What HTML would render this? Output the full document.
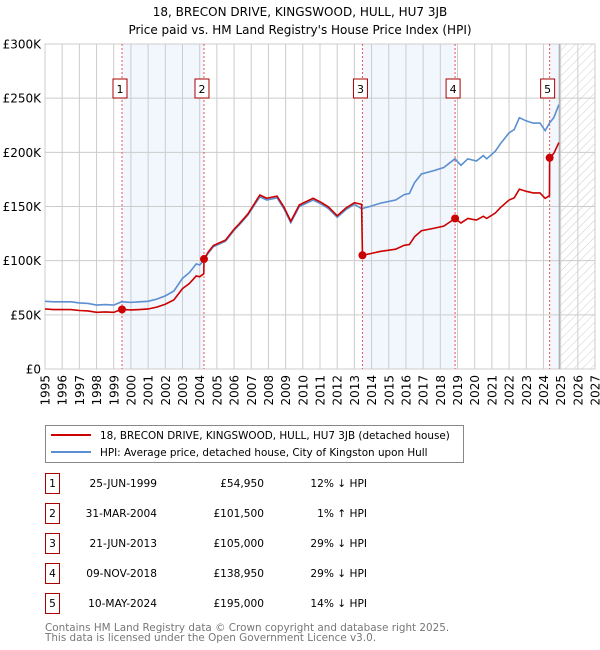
<!DOCTYPE html>
<html><head><meta charset="utf-8"><style>
body{margin:0;background:#fff;font-family:"Liberation Sans","DejaVu Sans",sans-serif;}
svg{display:block}
</style></head><body>
<svg id="c" width="600" height="650" xmlns="http://www.w3.org/2000/svg" font-family="DejaVu Sans, Liberation Sans, sans-serif">
<defs><pattern id="hatch" width="6" height="6" patternUnits="userSpaceOnUse" patternTransform="rotate(45)"><line x1="0" y1="0" x2="0" y2="6" stroke="#ccc" stroke-width="1"/></pattern></defs>
<text x="300" y="16" text-anchor="middle" font-size="12" fill="#000">18, BRECON DRIVE, KINGSWOOD, HULL, HU7 3JB</text>
<text x="300" y="34" text-anchor="middle" font-size="12" fill="#000">Price paid vs. HM Land Registry's House Price Index (HPI)</text>
<g id="plot"></g>
<g>
<rect x="45.5" y="425.5" width="418" height="37" fill="#fff" stroke="#888"/>
<line x1="51" y1="435" x2="91" y2="435" stroke="#cc0000" stroke-width="2"/>
<text x="100" y="439" font-size="10.4">18, BRECON DRIVE, KINGSWOOD, HULL, HU7 3JB (detached house)</text>
<line x1="51" y1="452" x2="91" y2="452" stroke="#5b8fd0" stroke-width="2"/>
<text x="100" y="456" font-size="10.4">HPI: Average price, detached house, City of Kingston upon Hull</text>
</g>
<g id="table" font-size="10.6"></g>
<text x="45" y="631" font-size="10.4" fill="#777">Contains HM Land Registry data © Crown copyright and database right 2025.</text>
<text x="45" y="641" font-size="10.4" fill="#777">This data is licensed under the Open Government Licence v3.0.</text>
</svg>
<script>
const yTicks=[0,50,100,150,200,250,300];
const yTickLabels=["£0","£50K","£100K","£150K","£200K","£250K","£300K"];
const xYears=[1995,1996,1997,1998,1999,2000,2001,2002,2003,2004,2005,2006,2007,2008,2009,2010,2011,2012,2013,2014,2015,2016,2017,2018,2019,2020,2021,2022,2023,2024,2025,2026,2027];
const hpiYears=[1995,1995.5,1996,1996.5,1997,1997.5,1998,1998.5,1999,1999.45,2000,2000.5,2001,2001.5,2002,2002.5,2003,2003.4,2003.8,2004,2004.24,2004.5,2004.8,2005.5,2006,2006.3,2006.8,2007.5,2007.9,2008.5,2008.9,2009.3,2009.8,2010.6,2011.1,2011.5,2012,2012.5,2013,2013.42,2013.9,2014.5,2015.4,2015.9,2016.2,2016.5,2016.9,2017.6,2018.2,2018.85,2019.2,2019.6,2020.1,2020.5,2020.7,2021.2,2021.5,2022,2022.3,2022.6,2023,2023.4,2023.8,2024.1,2024.35,2024.6,2024.9];
const hpiValues=[62.5,62,62,62,61,60.5,59,59.5,59,62,61.5,62,62.5,64.5,67.5,72,83.7,89,97,96,100.5,107,113,118,128,133,142,159,156,158,148,135,150,156,152,148,140,147,152,148,150,153,156,161,162,172,180,183,186,194,188,194,192,197,194,201,208,218,221,232,229,227,227,220,227,232,244];
const redYears=[1995,1995.5,1996,1996.5,1997,1997.5,1998,1998.5,1999,1999.45,2000,2000.5,2001,2001.5,2002,2002.5,2003,2003.4,2003.8,2004,2004.24,2004.25,2004.5,2004.8,2005.5,2006,2006.3,2006.8,2007.5,2007.9,2008.5,2008.9,2009.3,2009.8,2010.6,2011.1,2011.5,2012,2012.5,2013,2013.42,2013.47,2013.9,2014.5,2015.4,2015.9,2016.2,2016.5,2016.9,2017.6,2018.2,2018.86,2019.2,2019.6,2020.1,2020.5,2020.7,2021.2,2021.5,2022,2022.3,2022.6,2023,2023.4,2023.8,2024.1,2024.35,2024.36,2024.6,2024.9];
const redValues=[55.4,54.9,54.9,54.9,54,53.6,52.3,52.7,52.3,54.95,54.5,54.9,55.4,57.1,59.8,63.8,74.2,78.9,85.9,85.1,88,101.5,108,114,119,129,134,143,160.6,157.6,159.6,149.5,136.4,151.5,157.6,153.5,149.5,141.4,148.5,153.5,152,105,106.4,108.5,110.6,114.2,114.9,122,127.6,129.8,131.9,138.95,134.8,139,137.5,141,139,144,149,156,158,166,164,162.5,162.5,157.5,160,195,199,209];
const saleLabels=["1","2","3","4","5"];
const saleYears=[1999.48,2004.25,2013.47,2018.86,2024.36];
const salePrices=[54.95,101.5,105,138.95,195];
const saleDates=["25-JUN-1999","31-MAR-2004","21-JUN-2013","09-NOV-2018","10-MAY-2024"];
const salePriceText=["£54,950","£101,500","£105,000","£138,950","£195,000"];
const saleHpiText=["12% ↓ HPI","1% ↑ HPI","29% ↓ HPI","29% ↓ HPI","14% ↓ HPI"];
const dataEnd=2024.92;

const L=45,R=595,T=44,B=369,x0=1995,x1=2027,yMax=300;
const X=v=>L+(v-x0)/(x1-x0)*(R-L);
const Y=v=>B-v/yMax*(B-T);
const NS="http://www.w3.org/2000/svg";
function mk(tag,attrs,parent){const e=document.createElementNS(NS,tag);for(const k in attrs)e.setAttribute(k,attrs[k]);parent.appendChild(e);return e;}
const g=document.getElementById('plot');
const spans=[[saleYears[0],saleYears[1]],[saleYears[2],saleYears[3]],[saleYears[4],dataEnd]];
spans.forEach((s,i)=>{const r=mk('rect',{x:X(s[0]),y:T,width:X(s[1])-X(s[0]),height:B-T,fill:'#eef3fc',opacity:0.75},g);

});
const h=mk('rect',{x:X(dataEnd),y:T,width:R-X(dataEnd),height:B-T,fill:'url(#hatch)'},g);


xYears.forEach(yr=>{const l=mk('line',{x1:X(yr),x2:X(yr),y1:T,y2:B,stroke:'#ccc','stroke-width':1},g);


const t=mk('text',{x:0,y:0,'font-size':12,'text-anchor':'end',transform:`translate(${X(yr)+4.5},${B+6}) rotate(-90)`},g);t.textContent=yr;

});
yTicks.forEach((v,i)=>{const l=mk('line',{x1:L,x2:R,y1:Y(v),y2:Y(v),stroke:'#ccc','stroke-width':1},g);


const t=mk('text',{x:L-4,y:Y(v)+4.5,'font-size':12,'text-anchor':'end'},g);t.textContent=yTickLabels[i];

});
const ax=mk('rect',{x:L,y:T,width:R-L,height:B-T,fill:'none',stroke:'#ccc'},g);


const el=mk('line',{x1:X(dataEnd),x2:X(dataEnd),y1:T,y2:B,stroke:'#999','stroke-width':1},g);


saleYears.forEach((yr,i)=>{const l=mk('line',{x1:X(yr),x2:X(yr),y1:T,y2:B,stroke:'#ee5555','stroke-width':1,'stroke-dasharray':'2,2'},g);


const bx=mk('rect',{x:X(yr)-9,y:79,width:14,height:19,fill:'#fff',stroke:'#aa0000'},g);


const t=mk('text',{x:X(yr)-2,y:93,'font-size':11,'text-anchor':'middle'},g);t.textContent=saleLabels[i];

});
const hp=mk('polyline',{points:hpiYears.map((y,i)=>X(y)+','+Y(hpiValues[i])).join(' '),fill:'none',stroke:'#5b8fd0','stroke-width':1.6},g);


const rp=mk('polyline',{points:redYears.map((y,i)=>X(y)+','+Y(redValues[i])).join(' '),fill:'none',stroke:'#cc0000','stroke-width':1.6},g);


saleYears.forEach((yr,i)=>{const c=mk('circle',{cx:X(yr),cy:Y(salePrices[i]),r:4,fill:'#cc0000'},g);

});
const tb=document.getElementById('table');
saleLabels.forEach((s,i)=>{const y=483+i*30;
const bx=mk('rect',{x:45.5,y:y-9.5,width:14,height:20,fill:'#fff',stroke:'#aa0000'},tb);


const cells=[[52.5,'middle',s],[157,'end',saleDates[i]],[264,'end',salePriceText[i]],[367,'end',saleHpiText[i]]];
cells.forEach(c=>{const t=mk('text',{x:c[0],y:y+4,'text-anchor':c[1]},tb);t.textContent=c[2];

});});
</script>
</body></html>
